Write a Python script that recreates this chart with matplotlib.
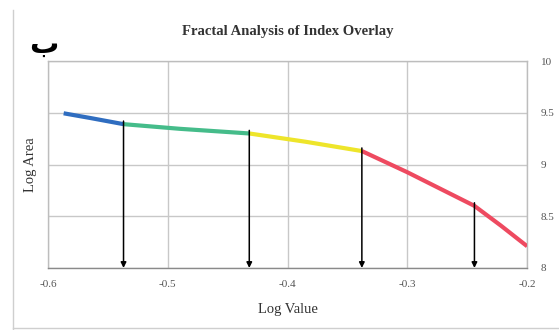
import matplotlib
matplotlib.use("Agg")
import matplotlib.pyplot as plt
from matplotlib.lines import Line2D

# Log-log curve split into scaling regimes
blue_x = [-0.587, -0.565, -0.537]
blue_y = [9.495, 9.45, 9.39]
green_x = [-0.537, -0.49, -0.432]
green_y = [9.39, 9.345, 9.30]
yellow_x = [-0.432, -0.385, -0.338]
yellow_y = [9.30, 9.22, 9.13]
red_x = [-0.338, -0.3, -0.244, -0.222, -0.2]
red_y = [9.13, 8.925, 8.60, 8.41, 8.21]

segments = [(blue_x, blue_y, "#2f6dc0"),
            (green_x, green_y, "#45bc8a"),
            (yellow_x, yellow_y, "#eee52a"),
            (red_x, red_y, "#ee4a60")]

# Break points marked with arrows down to the axis
break_x = [-0.537, -0.432, -0.338, -0.244]
break_y = [9.39, 9.30, 9.13, 8.60]

x_ticks = [-0.6, -0.5, -0.4, -0.3, -0.2]
x_tick_labels = ["-0.6", "-0.5", "-0.4", "-0.3", "-0.2"]
y_ticks = [8, 8.5, 9, 9.5, 10]
y_tick_labels = ["8", "8.5", "9", "9.5", "10"]

serif = "Liberation Serif"

fig = plt.figure(figsize=(5.59, 3.30), dpi=100)
fig.patch.set_facecolor("white")
ax = fig.add_axes([0.086, 0.188, 0.857, 0.627])

for xs, ys, c in segments:
    ax.plot(xs, ys, color=c, lw=3.0, solid_capstyle="butt",
            solid_joinstyle="round", zorder=3)

for bx, by in zip(break_x, break_y):
    ax.annotate("", xy=(bx, 8.0), xytext=(bx, by + 0.03),
                arrowprops=dict(arrowstyle="-|>", color="black", lw=1.1,
                                mutation_scale=8, shrinkA=0, shrinkB=0),
                zorder=4)

ax.set_xlim(-0.6, -0.2)
ax.set_ylim(8, 10)
ax.set_xticks(x_ticks)
ax.set_xticklabels(x_tick_labels)
ax.set_yticks(y_ticks)
ax.set_yticklabels(y_tick_labels)
ax.yaxis.tick_right()
ax.tick_params(axis="both", length=0, labelsize=8, colors="#555555")
ax.tick_params(axis="x", pad=9)
ax.tick_params(axis="y", pad=10)
for lab in ax.get_xticklabels() + ax.get_yticklabels():
    lab.set_family(serif)

ax.grid(True, color="#c8c8c8", lw=1.0)
ax.set_axisbelow(True)
for side, sp in ax.spines.items():
    sp.set_color("#bdbdbd")
    sp.set_linewidth(1.0)
ax.spines["bottom"].set_color("#8a8a8a")

ax.set_xlabel("Log Value", family=serif, fontsize=10.5, color="#333333", labelpad=10)
ax.set_ylabel("Log Area", family=serif, fontsize=10.5, color="#333333", labelpad=8)

fig.text(0.515, 0.905, "Fractal Analysis of Index Overlay", family=serif,
         fontsize=10.5, fontweight="bold", color="#333333", ha="center", va="center")
fig.text(0.079, 0.84, "ب", family="DejaVu Sans", fontsize=21, fontweight="bold",
         color="black", ha="center", va="baseline")

# Light frame around the chart on the left and bottom
fig.add_artist(Line2D([0.024, 0.024], [0.0, 0.97], color="#cfcfcf", lw=1.0,
                      transform=fig.transFigure))
fig.add_artist(Line2D([0.024, 1.0], [0.006, 0.006], color="#cfcfcf", lw=1.0,
                      transform=fig.transFigure))

fig.savefig("out.png", dpi=100, facecolor="white")
